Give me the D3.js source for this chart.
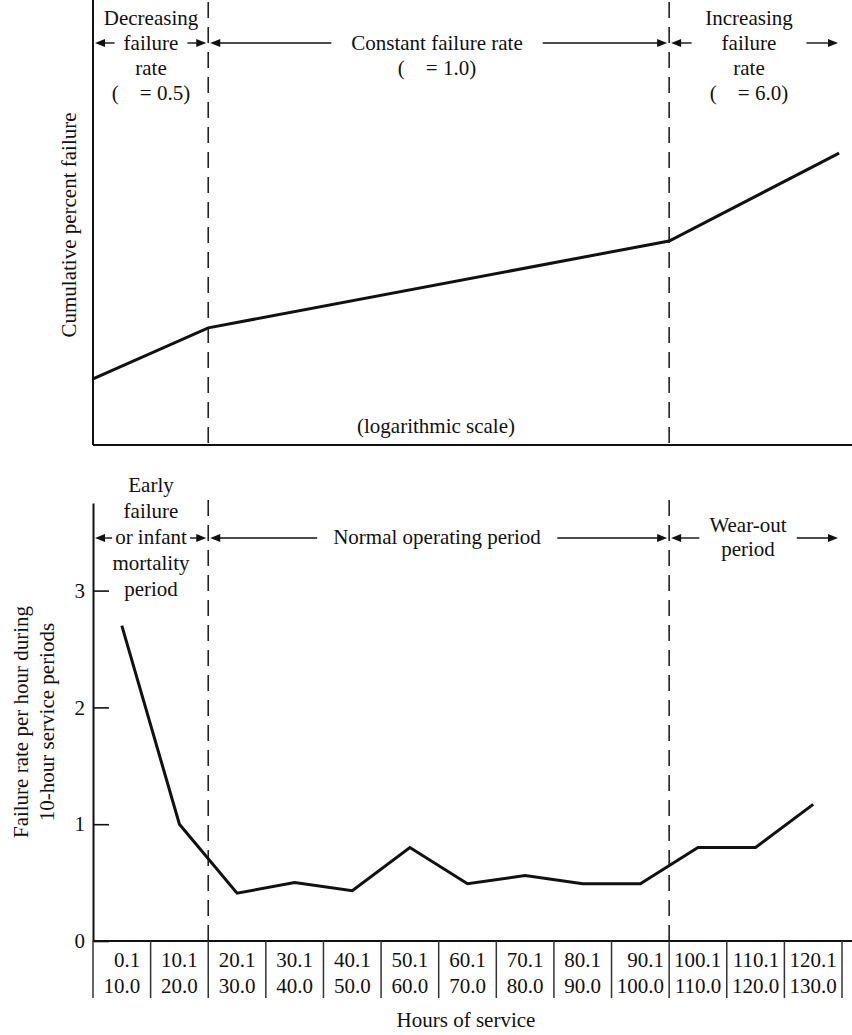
<!DOCTYPE html>
<html lang="en">
  <head>
    <meta charset="UTF-8" />
    <title>Failure rate and cumulative failure vs hours of service</title>
    <script src="https://d3js.org/d3.v7.min.js"></script>
    <style>
      body {
        margin: 0;
        background: #fff;
      }
      text {
        font-family: 'Liberation Serif', 'DejaVu Serif', serif;
        font-size: 21px;
        fill: #111;
        white-space: pre;
      }
    </style>
  </head>
  <body>
    <div id="chart"></div>
    <script>
      // data
      const periods = [
        '0.1|10.0', '10.1|20.0', '20.1|30.0', '30.1|40.0', '40.1|50.0',
        '50.1|60.0', '60.1|70.0', '70.1|80.0', '80.1|90.0', '90.1|100.0',
        '100.1|110.0', '110.1|120.0', '120.1|130.0',
      ];
      const failureRate = [2.7, 1.0, 0.41, 0.5, 0.43, 0.8, 0.49, 0.56, 0.49, 0.49, 0.8, 0.8, 1.17];
      const rateTicks = [0, 1, 2, 3];

      // cumulative curve (log scale, no ticks)
      const cumHours = [0, 20, 100, 129.5];
      const cumPercent = [1.98, 3.36, 8.26, 20.5];

      const phaseBounds = [0, 20, 100, 130];

      const W = 852, H = 1035;
      const left = 93, right = 842;

      const svg = d3.select('#chart').append('svg')
        .attr('width', W).attr('height', H);

      const xHours = d3.scaleLinear().domain([0, 130]).range([left, right]);
      const yCum = d3.scaleLog().domain([1, 100]).range([445, 0]);
      const xBand = d3.scaleBand().domain(periods).range([left, right]).padding(0);
      const yRate = d3.scaleLinear().domain([0, 3.75]).range([941, 503]);

      // ---------- top panel ----------
      const upper = svg.append('g');
      upper.append('line')
        .attr('x1', left).attr('x2', left)
        .attr('y1', yCum.range()[1]).attr('y2', yCum.range()[0])
        .attr('stroke', '#111').attr('stroke-width', 2);
      upper.append('line')
        .attr('x1', left).attr('x2', W)
        .attr('y1', yCum.range()[0]).attr('y2', yCum.range()[0])
        .attr('stroke', '#111').attr('stroke-width', 2);

      [phaseBounds[1], phaseBounds[2]].forEach(h => {
        upper.append('line')
          .attr('x1', xHours(h)).attr('x2', xHours(h))
          .attr('y1', 2).attr('y2', yCum.range()[0])
          .attr('stroke', '#222').attr('stroke-width', 1.6)
          .attr('stroke-dasharray', '16,9');
      });

      const cumLine = d3.line()
        .x((d, i) => xHours(cumHours[i]))
        .y(d => yCum(d));
      upper.append('path')
        .datum(cumPercent)
        .attr('d', cumLine)
        .attr('fill', 'none')
        .attr('stroke', '#111')
        .attr('stroke-width', 3);

      upper.append('text')
        .attr('transform', 'translate(76,225) rotate(-90)')
        .attr('text-anchor', 'middle')
        .text('Cumulative percent failure');

      upper.append('text')
        .attr('x', 436).attr('y', 433)
        .attr('text-anchor', 'middle')
        .text('(logarithmic scale)');

      // ---------- bottom panel ----------
      const lower = svg.append('g');

      [phaseBounds[1], phaseBounds[2]].forEach(h => {
        lower.append('line')
          .attr('x1', xHours(h)).attr('x2', xHours(h))
          .attr('y1', 500).attr('y2', yRate(0))
          .attr('stroke', '#222').attr('stroke-width', 1.6)
          .attr('stroke-dasharray', '16,9');
      });

      const yAxis = lower.append('g')
        .attr('transform', `translate(${left},0)`)
        .call(d3.axisLeft(yRate).tickValues(rateTicks)
          .tickSizeInner(-16).tickSizeOuter(0).tickPadding(8)
          .tickFormat(d3.format('d')));
      yAxis.select('.domain').attr('stroke', '#111').attr('stroke-width', 2);
      yAxis.selectAll('.tick line').attr('stroke', '#111').attr('stroke-width', 1.6);
      yAxis.selectAll('.tick text')
        .style('font-family', "'Liberation Serif', serif")
        .style('font-size', '21px')
        .attr('fill', '#111');

      lower.append('line')
        .attr('x1', left).attr('x2', W)
        .attr('y1', yRate(0)).attr('y2', yRate(0))
        .attr('stroke', '#111').attr('stroke-width', 2);

      // cell separators under the axis
      const edges = periods.map(p => xBand(p)).concat([xBand.range()[1]]);
      lower.selectAll('line.sep')
        .data(edges)
        .enter()
        .append('line')
        .attr('class', 'sep')
        .attr('x1', d => d).attr('x2', d => d)
        .attr('y1', yRate(0)).attr('y2', yRate(0) + 57)
        .attr('stroke', '#333').attr('stroke-width', 1.5);

      const cells = lower.selectAll('g.cell')
        .data(periods)
        .enter()
        .append('g')
        .attr('class', 'cell');
      cells.each(function (p) {
        const [a, b] = p.split('|');
        const g = d3.select(this);
        const cx = xBand(p) + xBand.bandwidth() / 2;
        const t2 = g.append('text').attr('y', yRate(0) + 52).attr('text-anchor', 'end').text(b);
        const w = t2.node().getComputedTextLength();
        t2.attr('x', cx + w / 2);
        g.append('text').attr('x', cx + w / 2).attr('y', yRate(0) + 26)
          .attr('text-anchor', 'end').text(a);
      });

      const rateLine = d3.line()
        .x((d, i) => xBand(periods[i]) + xBand.bandwidth() / 2)
        .y(d => yRate(d));
      lower.append('path')
        .datum(failureRate)
        .attr('d', rateLine)
        .attr('fill', 'none')
        .attr('stroke', '#111')
        .attr('stroke-width', 3)
        .attr('stroke-linejoin', 'miter');

      lower.append('text')
        .attr('transform', 'translate(28,722) rotate(-90)')
        .attr('text-anchor', 'middle')
        .text('Failure rate per hour during');
      lower.append('text')
        .attr('transform', 'translate(54,722) rotate(-90)')
        .attr('text-anchor', 'middle')
        .text('10-hour service periods');

      lower.append('text')
        .attr('x', 466).attr('y', 1027)
        .attr('text-anchor', 'middle')
        .text('Hours of service');

      // ---------- phase labels with arrows ----------
      function arrowHead(g, x, y, dir) {
        // dir -1 points left, +1 points right
        g.append('path')
          .attr('d', `M${x},${y} L${x - dir * 10},${y - 4} L${x - dir * 10},${y + 4} Z`)
          .attr('fill', '#111');
      }

      function phase(g, i, cx, lines, baseY, lineGap, arrowY, gap, textLine) {
        const x0 = xHours(phaseBounds[i]);
        const x1 = xHours(phaseBounds[i + 1]);
        let box = null;
        lines.forEach((s, k) => {
          const t = g.append('text')
            .attr('x', cx).attr('y', baseY + k * lineGap)
            .attr('text-anchor', 'middle')
            .text(s);
          if (k === textLine) box = t.node().getBBox();
        });
        const ax0 = x0 + 2, ax1 = i === 2 ? x1 - 4 : x1 - 2;
        const lx = box.x - gap, rx = box.x + box.width + gap;
        g.append('line').attr('x1', ax0 + 6).attr('x2', lx)
          .attr('y1', arrowY).attr('y2', arrowY)
          .attr('stroke', '#111').attr('stroke-width', 1.4);
        arrowHead(g, ax0, arrowY, -1);
        g.append('line').attr('x1', rx).attr('x2', ax1 - 6)
          .attr('y1', arrowY).attr('y2', arrowY)
          .attr('stroke', '#111').attr('stroke-width', 1.4);
        arrowHead(g, ax1, arrowY, 1);
      }

      const ann = svg.append('g');
      phase(ann, 0, 151, ['Decreasing', 'failure', 'rate', '(    = 0.5)'], 25, 25, 43, 9, 1);
      phase(ann, 1, 437, ['Constant failure rate', '(    = 1.0)'], 50, 25, 43, 20, 0);
      phase(ann, 2, 749, ['Increasing', 'failure', 'rate', '(    = 6.0)'], 25, 25, 43, 30, 1);

      phase(ann, 0, 151, ['Early', 'failure', 'or infant', 'mortality', 'period'], 492, 26, 538, 3, 2);
      phase(ann, 1, 437, ['Normal operating period'], 544, 26, 538, 16, 0);
      phase(ann, 2, 748, ['Wear-out', 'period'], 532, 24, 538, 10, 0);
    </script>
  </body>
</html>
